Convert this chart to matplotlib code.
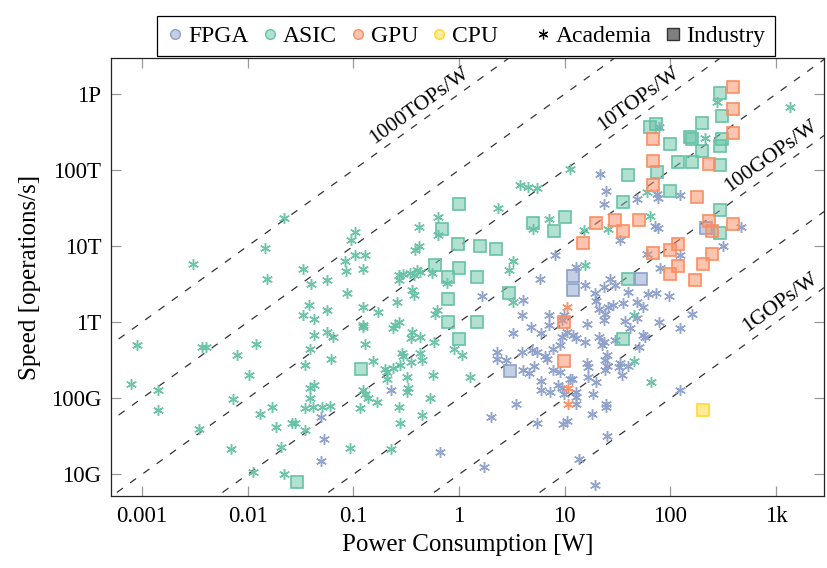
import numpy as np
import matplotlib
matplotlib.use('Agg')
import matplotlib.pyplot as plt
from matplotlib.lines import Line2D
from matplotlib.colors import to_rgba
import matplotlib.ticker as mticker

plt.rcParams['font.family'] = ['Liberation Serif', 'DejaVu Serif']

# ---------------- data (log10 of power [W], log10 of speed [ops/s]) ----------------
fpga_acad_logp = [1.33, 1.39, 1.87, 1.88, 2.09, 1.68, 1.37, 1.89, 1.85, 1.88, 2.67, 1.52, 2.50, 2.09, 1.78,
                  1.90, 1.11, 1.43, 1.19, 1.37, 1.48, 1.60, 1.29, 1.79, 1.86, 1.99, 1.30, 1.68, 1.55, 1.41,
                  1.46, 1.74, 1.32, 1.38, 1.21, 1.37, 1.57, 1.68, 1.89, 2.20, 2.09, 1.11, 1.19, 1.32, 1.37,
                  1.48, 1.62, 1.74, 1.35, 1.70, 1.76, 1.40, 1.38, 1.40, 1.38, 1.21, 1.22, 1.52, 1.51, 1.60,
                  1.07, 1.22, 1.30, 1.54, 1.11, 1.11, 1.11, 1.27, 1.39, 1.39, 1.26, 2.09, 1.40, 1.14, 1.29,
                  0.91, 0.77, 0.22, 0.61, 0.60, 0.68, 0.85, 0.85, 0.51, 0.78, 0.99, 0.97, 1.02, 1.08, -0.64,
                  -0.18, 0.36, 0.36, 0.44, 0.60, 0.69, 0.74, 0.81, 0.83, 0.71, 0.61, 0.66, 0.89, 0.96, 0.97,
                  0.89, 0.96, 1.05, 0.78, 0.78, 0.86, 0.94, 0.97, 0.99, 0.54, 0.30, 0.74, 0.98, 1.02, 0.24,
                  -1.31, -1.28, -1.31]
fpga_acad_logs = [13.95, 13.73, 13.69, 13.63, 13.67, 13.62, 13.56, 14.56, 13.26, 13.24, 13.25, 13.08, 13.00, 12.88, 12.90,
                  12.71, 12.73, 12.57, 12.49, 12.46, 12.49, 12.40, 12.38, 12.37, 12.39, 12.34, 12.28, 12.27, 12.25, 12.20,
                  12.22, 12.20, 12.17, 12.11, 11.98, 12.03, 12.01, 12.05, 12.00, 12.11, 11.92, 11.79, 11.74, 11.81, 11.74,
                  11.76, 11.92, 11.83, 11.70, 11.68, 11.81, 11.57, 11.50, 11.43, 11.37, 11.46, 11.41, 11.46, 11.41, 11.43,
                  11.26, 11.28, 11.22, 11.30, 11.08, 11.02, 10.93, 11.06, 10.93, 10.89, 10.79, 11.11, 10.51, 10.20, 9.86,
                  12.88, 12.57, 12.35, 12.29, 12.09, 11.94, 12.09, 11.96, 11.86, 11.86, 12.09, 12.03, 11.87, 11.83, 11.11,
                  10.30, 11.61, 11.52, 11.51, 11.61, 11.63, 11.61, 11.56, 11.52, 11.43, 11.37, 11.33, 11.65, 11.70, 11.81,
                  11.37, 11.35, 11.26, 11.23, 11.11, 11.08, 11.17, 11.13, 11.06, 10.92, 10.76, 10.67, 10.66, 10.70, 10.10,
                  10.76, 10.47, 10.17]

fpga_ind_logp = [2.34, 1.08, 1.08, 1.72, 0.48]
fpga_ind_logs = [13.24, 12.61, 12.43, 12.57, 11.36]

asic_acad_logp = [1.05, 0.58, 0.65, 0.74, 2.44, 3.13, 2.33, 1.78, 1.18, 1.41, 1.81, 1.19, 1.66, 1.66, 1.82,
                  0.37, -0.20, -0.20, -0.38, -0.98, -1.02, -0.98, -0.89, -1.08, -1.07, -0.91, -0.38, -0.42, 0.70, 0.85,
                  0.51, 0.47, -0.26, -0.11, -0.40, -0.46, -0.43, -0.37, -0.57, -0.57, -0.53, -1.06, -0.44, -0.43, 0.51,
                  -0.59, -0.91, -0.77, -0.21, -0.23, -0.91, -0.91, -0.61, -0.57, -0.62, -0.44, -0.37, -0.45, -0.24, -0.89,
                  -0.05, 0.03, -0.54, -0.53, -0.37, -0.35, -0.81, -0.70, -0.68, -0.62, -0.56, -0.45, -0.68, -0.49, -0.25,
                  0.10, -0.48, -0.49, -0.91, -0.89, -0.86, -0.78, -0.94, -0.57, -0.27, -0.35, -0.56, -1.03, -0.64,
                  -1.66, -1.84, -2.52, -1.82, -1.48, -1.40, -1.25, -1.42, -1.48, -1.37, -1.25, -1.37, -1.25, -1.19, -3.05,
                  -2.43, -2.39, -1.92, -2.10, -1.41, -1.46, -1.21, -3.10, -2.85, -1.99, -2.14, -1.41, -1.37, -1.41, -2.85,
                  -1.88, -1.77, -1.46, -1.38, -1.30, -1.22, -2.46, -1.73, -1.58, -1.55, -1.46, -1.68, -2.16, -1.95, -1.66]
asic_acad_logs = [14.02, 13.81, 13.78, 13.76, 14.89, 14.83, 14.42, 13.71, 13.21, 13.22, 13.40, 12.75, 12.09, 11.49, 11.22,
                  13.50, 13.38, 13.14, 13.25, 13.19, 13.08, 12.88, 12.89, 12.81, 12.67, 12.70, 13.00, 12.95, 13.22, 13.36,
                  12.81, 12.68, 12.65, 12.52, 12.68, 12.65, 12.62, 12.66, 12.62, 12.55, 12.64, 12.39, 12.43, 12.36, 12.27,
                  12.26, 12.20, 12.14, 12.16, 12.11, 11.97, 11.94, 11.96, 12.00, 11.93, 11.87, 11.81, 11.79, 11.74, 11.72,
                  11.65, 11.57, 11.59, 11.56, 11.59, 11.50, 11.49, 11.39, 11.35, 11.40, 11.44, 11.48, 11.26, 11.28, 11.31,
                  11.28, 11.13, 11.08, 11.11, 11.06, 11.00, 10.95, 10.87, 10.89, 11.01, 10.78, 10.67, 10.35, 10.33,
                  13.37, 12.98, 12.76, 12.57, 12.70, 12.50, 12.55, 12.23, 12.10, 12.04, 12.16, 11.83, 11.87, 11.81, 11.70,
                  11.68, 11.68, 11.71, 11.57, 11.65, 11.44, 11.52, 11.19, 11.11, 11.30, 10.99, 11.13, 11.17, 11.00, 10.84,
                  10.79, 10.89, 10.87, 10.89, 10.89, 10.90, 10.60, 10.62, 10.67, 10.68, 10.59, 10.36, 10.33, 10.03, 10.01]

asic_ind_logp = [0.00, 2.47, 2.49, 2.30, 1.86, 1.81, 2.19, 2.20, 2.49, 2.00, 2.47, 2.30, 2.07, 2.20, 2.47,
                 1.60, 1.87, 2.00, 1.55, 2.47, 2.47, 1.60, 1.55, -0.16, -0.01, 0.20, 0.35, 0.70, 1.00, 0.90,
                 -0.23, -0.10, 0.00, 0.17, 0.47, -0.10, -0.10, 0.17, 0.00, -0.93, -1.53]
asic_ind_logs = [13.55, 15.01, 14.71, 14.62, 14.60, 14.57, 14.44, 14.41, 14.41, 14.34, 14.31, 14.25, 14.10, 14.11, 14.07,
                 13.94, 13.97, 13.73, 13.58, 13.47, 13.17, 12.57, 11.78, 13.23, 13.03, 13.00, 12.96, 13.30, 13.38, 13.20,
                 12.75, 12.60, 12.71, 12.60, 12.39, 12.30, 12.00, 12.00, 11.78, 11.38, 9.90]

gpu_ind_logp = [2.59, 2.59, 2.59, 1.84, 1.84, 2.37, 1.84, 2.25, 1.30, 1.48, 1.55, 1.70, 2.37, 2.39, 2.59,
                1.17, 2.07, 1.84, 2.00, 2.39, 2.31, 2.07, 2.00, 2.23, 0.99, 0.99]
gpu_ind_logs = [15.09, 14.80, 14.49, 14.41, 14.12, 14.08, 13.81, 13.65, 13.30, 13.34, 13.20, 13.34, 13.33, 13.20, 13.29,
                13.04, 13.03, 12.91, 12.95, 12.90, 12.77, 12.74, 12.64, 12.55, 12.00, 11.49]

gpu_acad_logp = [1.02, 1.03, 1.03]
gpu_acad_logs = [12.20, 11.14, 10.93]

cpu_ind_logp = [2.31]
cpu_ind_logs = [10.84]

# efficiency guide lines [ops/s per W]
eff_values = [1e9, 1e10, 1e11, 1e12, 1e13, 1e14, 1e15]
eff_labels = {1e15: '1000TOPs/W', 1e13: '10TOPs/W', 1e11: '100GOPs/W', 1e9: '1GOPs/W'}
label_power = {1e15: 0.50, 1e13: 60.0, 1e11: 1070.0, 1e9: 1300.0}

x_ticks = [1e-3, 1e-2, 1e-1, 1, 10, 100, 1000]
x_ticklabels = ['0.001', '0.01', '0.1', '1', '10', '100', '1k']
y_ticks = [1e10, 1e11, 1e12, 1e13, 1e14, 1e15]
y_ticklabels = ['10G', '100G', '1T', '10T', '100T', '1P']

colors = {'FPGA': '#8da0cb', 'ASIC': '#66c2a5', 'GPU': '#fc8d62', 'CPU': '#ffd92f'}

# ---------------- figure ----------------
W, H = 828, 568
fig = plt.figure(figsize=(W / 100, H / 100), dpi=100)
ax = fig.add_axes([111 / W, 1 - 496 / H, (824 - 111) / W, (496 - 58) / H])
ax.set_xscale('log')
ax.set_yscale('log')
ax.set_xlim(5.1e-4, 2840)
ax.set_ylim(5.2e9, 2.97e15)

FS = 16.5

xx = np.logspace(-5, 5, 100)
for e in eff_values:
    ax.plot(xx, e * xx, ls=(0, (5.9, 7.2)), color='#333333', lw=0.9, zorder=1)

fig.canvas.draw()
p1 = ax.transData.transform((1, 1e12))
p2 = ax.transData.transform((10, 1e13))
ang = np.degrees(np.arctan2(p2[1] - p1[1], p2[0] - p1[0]))
perp = np.radians(ang + 90)
off = 10.0
for e, txt in eff_labels.items():
    xp = label_power[e]
    ax.annotate(txt, xy=(xp, e * xp), xytext=(off * np.cos(perp), off * np.sin(perp)),
                textcoords='offset points', rotation=ang, rotation_mode='anchor',
                ha='center', va='center', fontsize=15.5, zorder=2)

star = (6, 2, 0)
def stars(lp, ls, c):
    ax.plot(10 ** np.array(lp), 10 ** np.array(ls), ls='none', marker=star, ms=7.8,
            color=c, mew=1.05, alpha=0.95, zorder=3)

def squares(lp, ls, c):
    ax.plot(10 ** np.array(lp), 10 ** np.array(ls), ls='none', marker='s', ms=8.0,
            mfc=to_rgba(c, 0.5), mec=c, mew=1.2, zorder=4)

stars(asic_acad_logp, asic_acad_logs, colors['ASIC'])
stars(fpga_acad_logp, fpga_acad_logs, colors['FPGA'])
stars(gpu_acad_logp, gpu_acad_logs, colors['GPU'])
squares(asic_ind_logp, asic_ind_logs, colors['ASIC'])
squares(fpga_ind_logp, fpga_ind_logs, colors['FPGA'])
squares(gpu_ind_logp, gpu_ind_logs, colors['GPU'])
squares(cpu_ind_logp, cpu_ind_logs, colors['CPU'])

ax.xaxis.set_major_locator(mticker.FixedLocator(x_ticks))
ax.yaxis.set_major_locator(mticker.FixedLocator(y_ticks))
ax.xaxis.set_minor_locator(mticker.NullLocator())
ax.yaxis.set_minor_locator(mticker.NullLocator())
ax.set_xticklabels(x_ticklabels)
ax.set_yticklabels(y_ticklabels)
ax.tick_params(which='major', direction='in', length=7.5, width=0.9, color='#9a9a9a',
               top=True, right=True, labelsize=FS, pad=7)
for sp in ax.spines.values():
    sp.set_linewidth(0.9)
    sp.set_color('#222222')

ax.set_xlabel('Power Consumption [W]', fontsize=18, labelpad=5)
ax.set_ylabel('Speed [operations/s]', fontsize=18, labelpad=7)

handles = [Line2D([], [], ls='none', marker='o', ms=7, mfc=to_rgba(colors[k], 0.5), mec=colors[k], mew=1.0)
           for k in ['FPGA', 'ASIC', 'GPU', 'CPU']]
handles += [Line2D([], [], ls='none', marker=star, ms=7, color='black', mew=0.9),
            Line2D([], [], ls='none', marker='s', ms=8, mfc='#7f7f7f', mec='#333333', mew=1.0)]
labels = ['FPGA', 'ASIC', 'GPU', 'CPU    ', 'Academia', 'Industry']
leg = fig.legend(handles, labels, ncol=6, loc='upper center', bbox_to_anchor=(466 / W, 1 - 4 / H),
                 frameon=True, fancybox=False, edgecolor='black', handlelength=0.7, handletextpad=0.2,
                 columnspacing=0.55, borderpad=0.4, fontsize=FS + 0.5, framealpha=1)
leg.get_frame().set_linewidth(0.9)

fig.savefig('out.png', dpi=100)
